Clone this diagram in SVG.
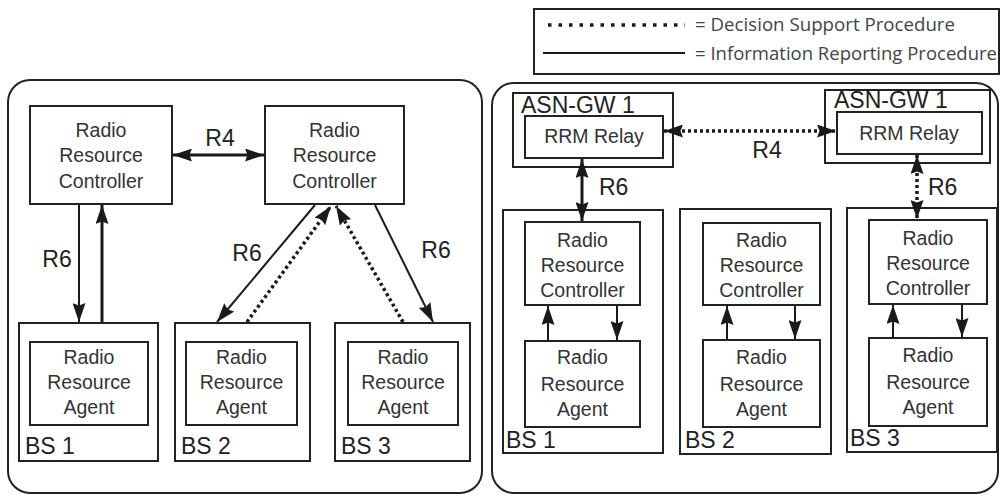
<svg xmlns="http://www.w3.org/2000/svg" width="1000" height="495" viewBox="0 0 1000 495">
  <defs>
    <marker id="ah" viewBox="0 0 19 13" refX="19" refY="6.5" markerWidth="19" markerHeight="13" markerUnits="userSpaceOnUse" orient="auto-start-reverse">
      <path d="M0,0 L19,6.5 L0,13 L2.5,6.5 z" fill="#1a1a1a"/>
    </marker>
    <style>
      .panel { fill: #fff; stroke: #222; stroke-width: 2; }
      .box { fill: #fff; stroke: #222; stroke-width: 2; }
      .txt { font-family: "Liberation Sans", Arial, sans-serif; font-size: 19.5px; fill: #333; text-anchor: middle; }
      .lbl { font-family: "Liberation Sans", Arial, sans-serif; font-size: 23px; fill: #222; }
      .lblc { font-family: "Liberation Sans", Arial, sans-serif; font-size: 23px; fill: #222; text-anchor: middle; }
      .leg { font-family: "Open Sans", "Noto Sans", sans-serif; font-size: 17.5px; fill: #444; }
      .solid { fill: none; stroke: #1a1a1a; stroke-width: 2; }
      .thick { fill: none; stroke: #1a1a1a; stroke-width: 3; }
      .dot { fill: none; stroke: #1a1a1a; stroke-width: 3.5; stroke-dasharray: 3 3; }
    </style>
  </defs>

  <!-- legend -->
  <g id="legend">
    <rect x="534" y="9" width="465" height="65" fill="#fff" stroke="#222" stroke-width="2"/>
    <line x1="548" y1="25" x2="685" y2="25" stroke="#1a1a1a" stroke-width="3.5" stroke-dasharray="3.5 7"/>
    <text class="leg" x="695" y="31" textLength="260" lengthAdjust="spacingAndGlyphs">= Decision Support Procedure</text>
    <line x1="543" y1="53" x2="685" y2="53" stroke="#1a1a1a" stroke-width="2"/>
    <text class="leg" x="695" y="60" textLength="302" lengthAdjust="spacingAndGlyphs">= Information Reporting Procedure</text>
  </g>

  <!-- left: distributed RRM -->
  <g id="left-panel">
    <rect class="panel" x="8" y="80" width="474" height="413" rx="22"/>
  </g>
  <g id="l-rrc1">
    <rect class="box" x="30" y="106" width="142" height="98"/>
    <text class="txt" x="101" y="137">Radio</text>
    <text class="txt" x="101" y="162">Resource</text>
    <text class="txt" x="101" y="188">Controller</text>
  </g>
  <g id="l-rrc2">
    <rect class="box" x="265" y="106" width="139" height="98"/>
    <text class="txt" x="334.5" y="137">Radio</text>
    <text class="txt" x="334.5" y="162">Resource</text>
    <text class="txt" x="334.5" y="188">Controller</text>
  </g>
  <g id="l-bs1">
    <rect class="box" x="19" y="323" width="139" height="138"/>
    <rect class="box" x="30" y="342" width="118" height="83"/>
    <text class="txt" x="89" y="364">Radio</text>
    <text class="txt" x="89" y="389">Resource</text>
    <text class="txt" x="89" y="414">Agent</text>
    <text class="lbl" x="25" y="454">BS 1</text>
  </g>
  <g id="l-bs2">
    <rect class="box" x="175" y="323" width="135" height="138"/>
    <rect class="box" x="186" y="342" width="111" height="83"/>
    <text class="txt" x="241.5" y="364">Radio</text>
    <text class="txt" x="241.5" y="389">Resource</text>
    <text class="txt" x="241.5" y="414">Agent</text>
    <text class="lbl" x="181" y="454">BS 2</text>
  </g>
  <g id="l-bs3">
    <rect class="box" x="335" y="323" width="135" height="138"/>
    <rect class="box" x="348" y="342" width="110" height="83"/>
    <text class="txt" x="403" y="364">Radio</text>
    <text class="txt" x="403" y="389">Resource</text>
    <text class="txt" x="403" y="414">Agent</text>
    <text class="lbl" x="341" y="454">BS 3</text>
  </g>

  <!-- right: centralized RRM via ASN-GW -->
  <g id="right-panel">
    <rect class="panel" x="492" y="83" width="506" height="410" rx="22"/>
  </g>
  <g id="r-gw1">
    <rect class="box" x="513" y="93" width="160" height="74"/>
    <text class="lbl" x="521" y="113">ASN-GW 1</text>
    <rect class="box" x="525" y="116" width="138" height="42"/>
    <text class="txt" x="594" y="143">RRM Relay</text>
  </g>
  <g id="r-gw2">
    <rect class="box" x="825" y="90" width="165" height="73"/>
    <text class="lbl" x="834" y="108">ASN-GW 1</text>
    <rect class="box" x="837" y="112" width="145" height="42"/>
    <text class="txt" x="909" y="140">RRM Relay</text>
  </g>
  <g id="r-bs1">
    <rect class="box" x="503" y="210" width="160" height="243"/>
    <rect class="box" x="525" y="222" width="115" height="83"/>
    <text class="txt" x="582.5" y="247">Radio</text>
    <text class="txt" x="582.5" y="272">Resource</text>
    <text class="txt" x="582.5" y="297">Controller</text>
    <rect class="box" x="525" y="341" width="115" height="86"/>
    <text class="txt" x="582.5" y="364">Radio</text>
    <text class="txt" x="582.5" y="391">Resource</text>
    <text class="txt" x="582.5" y="416">Agent</text>
    <text class="lbl" x="506" y="448">BS 1</text>
  </g>
  <g id="r-bs2">
    <rect class="box" x="680" y="209" width="151" height="245"/>
    <rect class="box" x="703" y="223" width="117" height="82"/>
    <text class="txt" x="761.5" y="247">Radio</text>
    <text class="txt" x="761.5" y="272">Resource</text>
    <text class="txt" x="761.5" y="297">Controller</text>
    <rect class="box" x="703" y="340" width="117" height="87"/>
    <text class="txt" x="761.5" y="364">Radio</text>
    <text class="txt" x="761.5" y="391">Resource</text>
    <text class="txt" x="761.5" y="416">Agent</text>
    <text class="lbl" x="685" y="448">BS 2</text>
  </g>
  <g id="r-bs3">
    <rect class="box" x="847" y="208" width="150" height="244"/>
    <rect class="box" x="869" y="220" width="118" height="84"/>
    <text class="txt" x="928" y="245">Radio</text>
    <text class="txt" x="928" y="270">Resource</text>
    <text class="txt" x="928" y="295">Controller</text>
    <rect class="box" x="869" y="338" width="118" height="88"/>
    <text class="txt" x="928" y="362">Radio</text>
    <text class="txt" x="928" y="389">Resource</text>
    <text class="txt" x="928" y="414">Agent</text>
    <text class="lbl" x="850" y="446">BS 3</text>
  </g>

  <!-- connectors -->
  <g id="connectors">
    <!-- left panel -->
    <line class="thick" x1="173" y1="155" x2="264" y2="155" marker-start="url(#ah)" marker-end="url(#ah)"/>
    <text class="lblc" x="220" y="146">R4</text>
    <line class="solid" x1="79" y1="205" x2="79" y2="322" marker-end="url(#ah)"/>
    <line class="thick" x1="102" y1="322" x2="102" y2="205" marker-end="url(#ah)"/>
    <text class="lblc" x="57" y="267">R6</text>
    <line class="solid" x1="315" y1="205" x2="217" y2="322" marker-end="url(#ah)"/>
    <line class="dot" x1="247" y1="322" x2="331" y2="206" marker-end="url(#ah)"/>
    <text class="lblc" x="247" y="261">R6</text>
    <line class="dot" x1="403" y1="322" x2="336" y2="206" marker-end="url(#ah)"/>
    <line class="solid" x1="375" y1="205" x2="433" y2="322" marker-end="url(#ah)"/>
    <text class="lblc" x="436" y="258">R6</text>

    <!-- right panel -->
    <line class="dot" x1="664" y1="131" x2="836" y2="131" marker-start="url(#ah)" marker-end="url(#ah)"/>
    <text class="lblc" x="767" y="158">R4</text>
    <line class="thick" x1="582" y1="159" x2="582" y2="221" marker-start="url(#ah)" marker-end="url(#ah)"/>
    <text class="lbl" x="599" y="195">R6</text>
    <line class="dot" x1="917" y1="155" x2="917" y2="219" marker-start="url(#ah)" marker-end="url(#ah)"/>
    <text class="lbl" x="928" y="195">R6</text>

    <line class="solid" x1="548" y1="341" x2="548" y2="306" marker-end="url(#ah)"/>
    <line class="solid" x1="617" y1="306" x2="617" y2="340" marker-end="url(#ah)"/>
    <line class="solid" x1="727" y1="340" x2="727" y2="306" marker-end="url(#ah)"/>
    <line class="solid" x1="795" y1="306" x2="795" y2="339" marker-end="url(#ah)"/>
    <line class="solid" x1="893" y1="338" x2="893" y2="305" marker-end="url(#ah)"/>
    <line class="solid" x1="962" y1="305" x2="962" y2="337" marker-end="url(#ah)"/>
  </g>
</svg>
